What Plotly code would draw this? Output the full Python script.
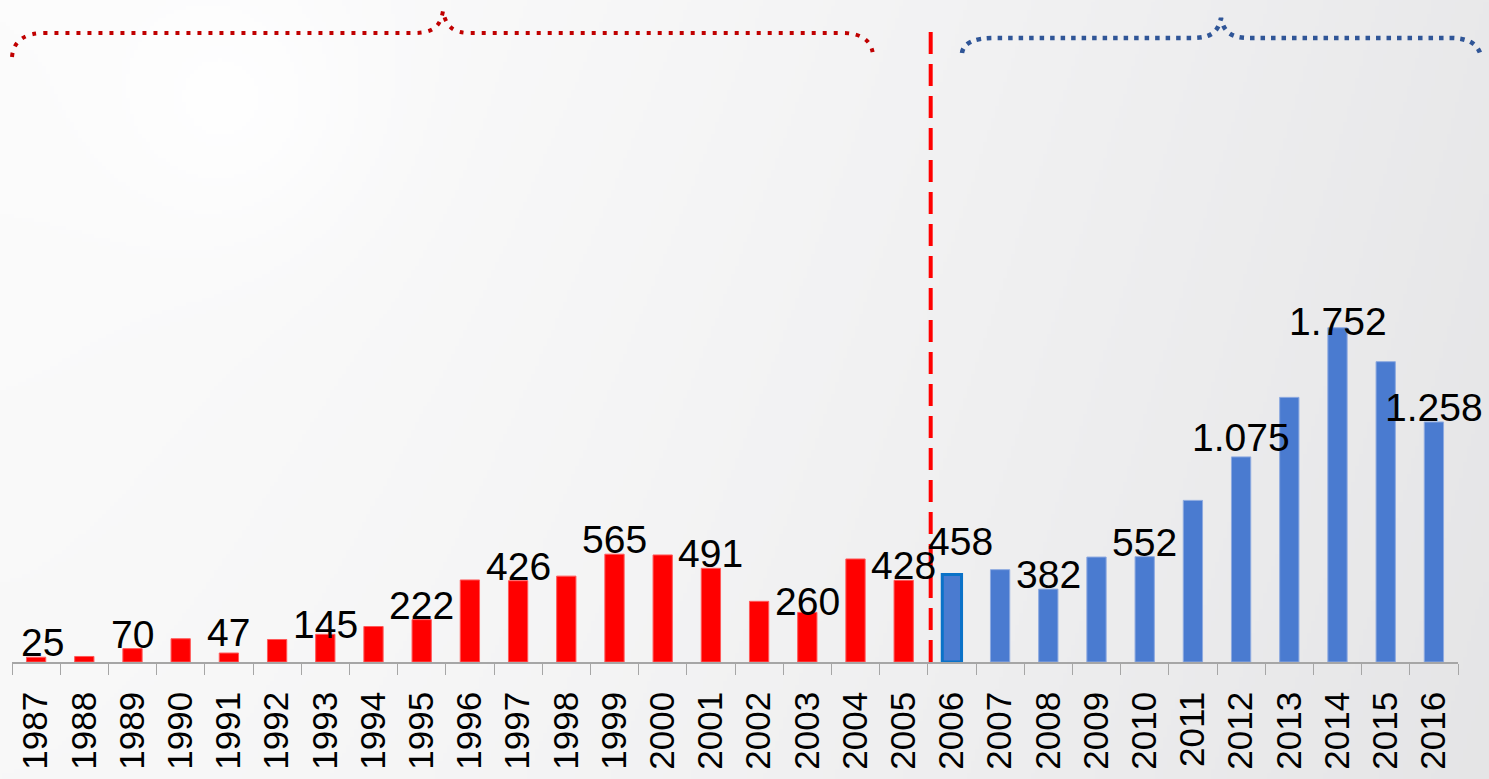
import base64
import struct
import zlib

import numpy as np
import plotly.graph_objects as go

# ---------------- data ----------------
years = [str(y) for y in range(1987, 2017)]
values = [25, 29, 70, 122, 47, 118, 145, 186, 222, 430,
          426, 450, 565, 561, 491, 318, 260, 540, 428, 458,
          484, 382, 550, 552, 847, 1075, 1387, 1752, 1574, 1258]
labelled_years = ["1987", "1989", "1991", "1993", "1995", "1997", "1999",
                  "2001", "2003", "2005", "2006", "2008", "2010", "2012",
                  "2014", "2016"]
split_year = "2006"

# label placement nudges in pixels (style only): year -> (dx, dy)
label_nudge = {"1987": (6, 0), "1991": (0, 6), "1993": (0, -5),
               "2003": (0, -4), "2006": (9, 19), "2012": (0, 5),
               "2014": (0, -8)}

# ---------------- geometry ----------------
W, H = 1489, 779
ML, MR, MT, MB = 12, 31, 10, 117
PW, PH = W - ML - MR, H - MT - MB
PX_PER_UNIT = 0.1908
YMAX = PH / PX_PER_UNIT


def px(x, y):
    return f"{(x - ML) / PW:.5f},{(H - MB - y) / PH:.5f}"


# ---------------- background gradient ----------------
def png_uri(arr):
    h, w, _ = arr.shape
    raw = b"".join(b"\x00" + arr[i].tobytes() for i in range(h))

    def chunk(t, d):
        return (struct.pack(">I", len(d)) + t + d +
                struct.pack(">I", zlib.crc32(t + d) & 0xffffffff))

    png = (b"\x89PNG\r\n\x1a\n" +
           chunk(b"IHDR", struct.pack(">IIBBBBB", w, h, 8, 2, 0, 0, 0)) +
           chunk(b"IDAT", zlib.compress(raw, 9)) + chunk(b"IEND", b""))
    return "data:image/png;base64," + base64.b64encode(png).decode()


gw, gh = 372, 195
gx, gy = np.meshgrid(np.linspace(0, 1, gw), np.linspace(0, 1, gh))
base = 252 - 19 * gx ** 1.5 - 4 * gy
glow = 4 * np.exp(-(((gx - 0.16) * 1.9) ** 2 + ((gy - 0.14)) ** 2) / 0.03)
v = np.clip(base + glow, 0, 255)
img = np.stack([v, v, np.clip(v + 1.5 * gx, 0, 255)], axis=-1).astype(np.uint8)
bg_uri = png_uri(img)

# ---------------- figure ----------------
colors = ["#ff0000" if int(y) < int(split_year) else "#4a7bd0" for y in years]
line_colors = ["#ff5a5a" if int(y) < int(split_year) else "#8eaae0" for y in years]
line_widths = [1] * len(years)
line_colors[years.index(split_year)] = "#0a72c8"
line_widths[years.index(split_year)] = 3

fig = go.Figure()
fig.add_trace(go.Bar(
    x=years, y=values,
    marker=dict(color=colors, line=dict(color=line_colors, width=line_widths)),
    hoverinfo="skip",
))

for i, (y, val) in enumerate(zip(years, values)):
    if y in labelled_years:
        dx, dy = label_nudge.get(y, (0, 0))
        fig.add_annotation(
            x=i, y=val, xref="x", yref="y", text=f"{val:,}".replace(",", "."),
            showarrow=False, yanchor="bottom", xanchor="center",
            yshift=-9 + dy, xshift=dx,
            font=dict(family="Liberation Sans, Arial", size=39, color="#000000"),
        )

# dashed divider between the two periods
fig.add_shape(type="line", xref="x", yref="paper",
              x0=years.index(split_year) - 0.44, x1=years.index(split_year) - 0.44,
              y0=0, y1=(H - MB - 30) / PH,
              line=dict(color="#ff0000", width=4, dash="22px,10px"))

# braces
red_path = (f"M{px(12, 57)} Q{px(14, 33)} {px(45, 33)} L{px(413, 33)} "
            f"C{px(432, 33)} {px(440, 28)} {px(443, 11)} "
            f"C{px(446, 28)} {px(455, 33)} {px(470, 33)} L{px(842, 33)} "
            f"Q{px(871, 33)} {px(873, 55)}")
fig.add_shape(type="path", xref="paper", yref="paper", path=red_path,
              line=dict(color="#c00000", width=4, dash="4px,7px"))

blue_path = (f"M{px(962, 53)} Q{px(964, 38)} {px(994, 38)} L{px(1192, 38)} "
             f"C{px(1210, 38)} {px(1218, 33)} {px(1221, 18)} "
             f"C{px(1224, 33)} {px(1232, 38)} {px(1250, 38)} L{px(1450, 38)} "
             f"Q{px(1478, 38)} {px(1481, 57)}")
fig.add_shape(type="path", xref="paper", yref="paper", path=blue_path,
              line=dict(color="#2f5597", width=4.5, dash="4.5px,6px"))

fig.add_layout_image(dict(
    source=bg_uri, xref="paper", yref="paper",
    x=-ML / PW, y=1 + MT / PH, sizex=W / PW, sizey=H / PH,
    xanchor="left", yanchor="top", sizing="stretch", layer="below",
))

fig.update_layout(
    width=W, height=H,
    margin=dict(l=ML, r=MR, t=MT, b=MB, pad=0),
    paper_bgcolor="#f0f0f0",
    plot_bgcolor="rgba(0,0,0,0)",
    bargap=0.6,
    showlegend=False,
    font=dict(family="Liberation Sans, Arial", color="#000000"),
    xaxis=dict(
        type="category", range=[-0.5, len(years) - 0.5],
        tickangle=-90, tickfont=dict(size=35, color="#000000"),
        ticks="outside", tickson="boundaries", ticklen=11, tickwidth=1.3,
        tickcolor="#a6a6a6", showline=True, linecolor="#a6a6a6", linewidth=1.5,
        showgrid=False, ticklabelstandoff=14, fixedrange=True,
    ),
    yaxis=dict(range=[0, YMAX], visible=False, showgrid=False, fixedrange=True),
)

fig.write_html(
    "out.html",
    config={"displayModeBar": False},
    post_script="document.body.style.margin='0';document.body.style.overflow='hidden';",
)
